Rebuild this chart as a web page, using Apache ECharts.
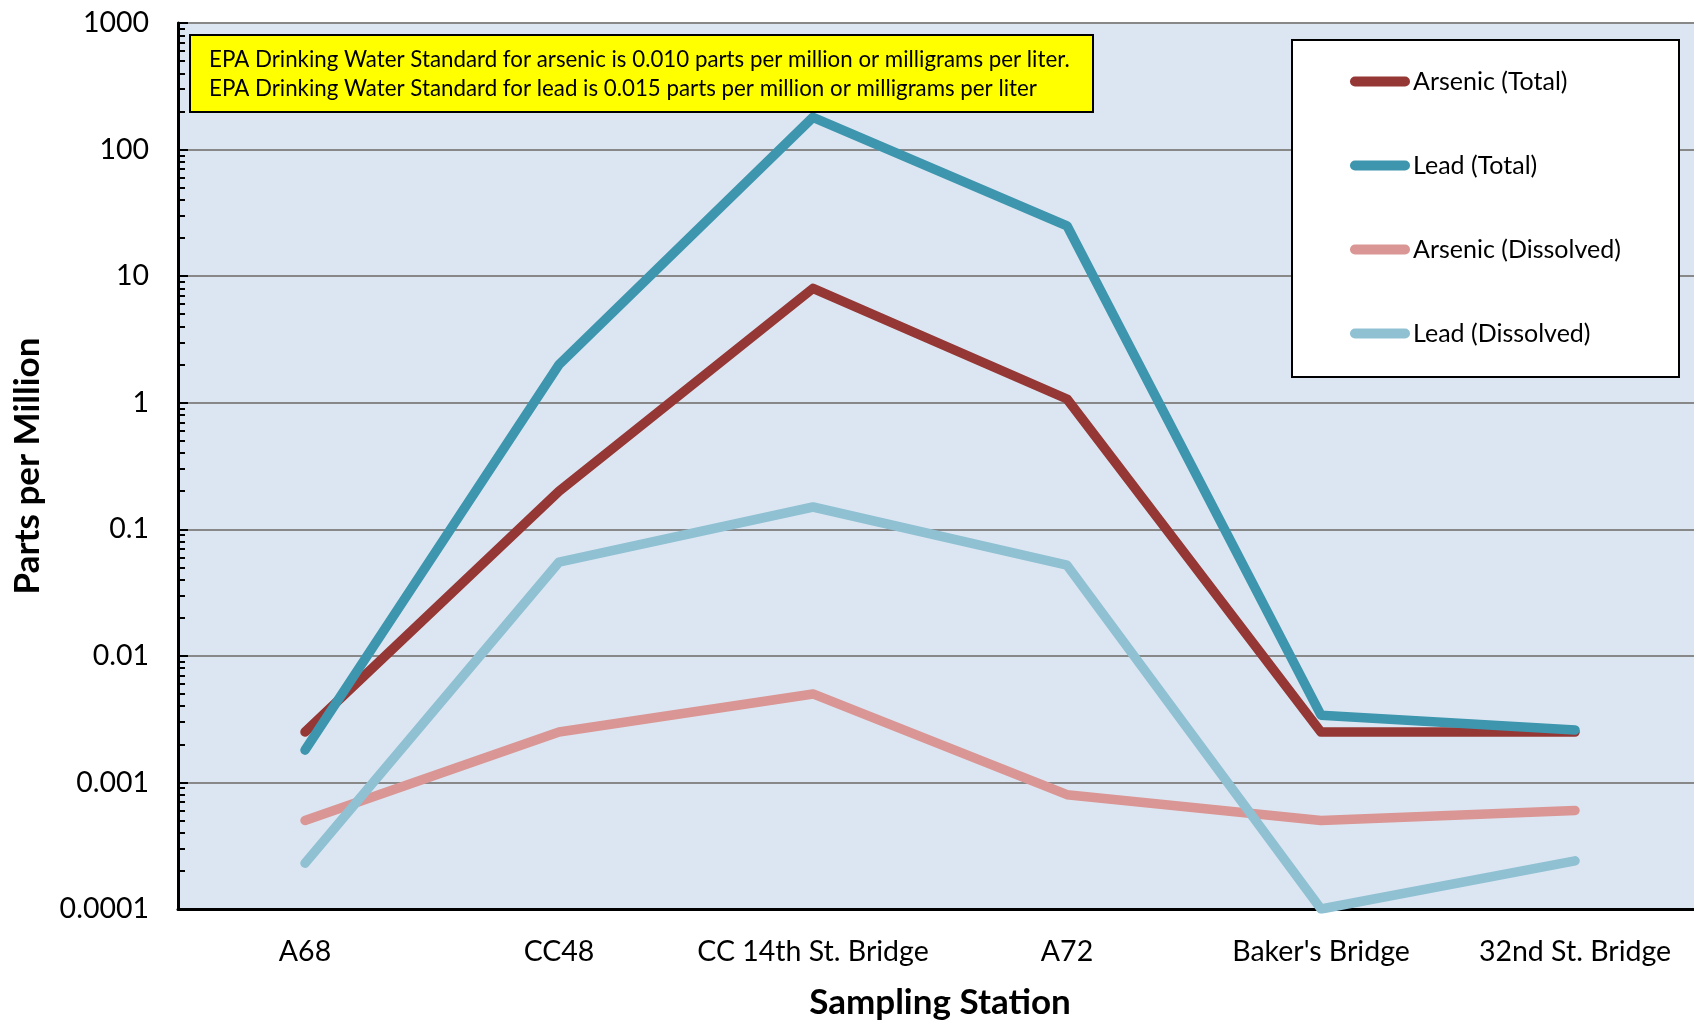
<!DOCTYPE html>
<html>
<head>
<meta charset="utf-8">
<script src="https://cdn.jsdelivr.net/npm/echarts@6/dist/echarts.min.js"></script>
<style>
html,body{margin:0;padding:0;background:#fff;}
#chart{width:1694px;height:1020px;}
</style>
</head>
<body>
<div id="chart"></div>
<script>
// ---- data ----
var stations = ['A68', 'CC48', 'CC 14th St. Bridge', 'A72', "Baker's Bridge", '32nd St. Bridge'];
var arsenicTotal = [0.0025, 0.2, 8, 1.07, 0.0025, 0.0025];
var leadTotal = [0.0018, 2, 180, 25, 0.0034, 0.0026];
var arsenicDissolved = [0.0005, 0.0025, 0.005, 0.0008, 0.0005, 0.0006];
var leadDissolved = [0.00023, 0.055, 0.15, 0.052, 0.0001, 0.00024];
var seriesNames = ['Arsenic (Total)', 'Lead (Total)', 'Arsenic (Dissolved)', 'Lead (Dissolved)'];
var yTickLabels = ['0.0001', '0.001', '0.01', '0.1', '1', '10', '100', '1000'];
var noteLines = [
  'EPA Drinking Water Standard for arsenic is 0.010 parts per million or milligrams per liter.',
  'EPA Drinking Water Standard for lead is 0.015 parts per million or milligrams per liter'
];
var xTitle = 'Sampling Station';
var yTitle = 'Parts per Million';

// ---- style ----
var colors = ['#953735', '#3D96AE', '#DA9694', '#8FC1D3'];
var FONT = 'Lato';

// minor tick positions (log10 of 2..9 x 10^n), used only for axis decoration
var minorTicks = [];
for (var e = -4; e < 3; e++) {
  for (var k = 2; k <= 9; k++) minorTicks.push(e + Math.log10(k));
}

var chart = echarts.init(document.getElementById('chart'), null, {renderer: 'canvas'});

function mkSeries(name, data, i) {
  return {
    name: name, type: 'line', data: data, symbol: 'none', smooth: false,
    xAxisIndex: 0, yAxisIndex: 0,
    itemStyle: {color: colors[i]},
    lineStyle: {color: colors[i], width: 9.5, cap: 'round', join: 'round'},
    emphasis: {disabled: true},
    z: 3 + i
  };
}

var capsule = 'path://M5,0H55A5,5,0,0,1,55,10H5A5,5,0,0,1,5,0Z';

var option = {
  animation: false,
  backgroundColor: '#ffffff',
  textStyle: {fontFamily: FONT},
  grid: {
    left: 178, width: 1524, top: 23, bottom: 111,
    outerBoundsMode: 'none', containLabel: false,
    show: true, backgroundColor: '#DCE6F2', borderColor: '#000', borderWidth: 1.5
  },
  legend: {
    orient: 'vertical', left: 1350, top: 69,
    itemWidth: 60, itemHeight: 10, itemGap: 59,
    icon: capsule,
    padding: 0,
    textStyle: {fontFamily: FONT, fontSize: 25, color: '#000', padding: [0, 0, 0, -2], lineHeight: 25},
    data: seriesNames,
    selectedMode: false,
    z: 20
  },
  xAxis: {
    type: 'category', data: stations, boundaryGap: true,
    axisLine: {show: true, onZero: false, lineStyle: {color: '#000', width: 3}},
    axisTick: {show: false},
    axisLabel: {fontFamily: FONT, fontSize: 28.5, color: '#000', margin: 28, interval: 0},
    splitLine: {show: false},
    name: xTitle, nameLocation: 'middle', nameGap: 76,
    nameTextStyle: {fontFamily: FONT, fontSize: 35, fontWeight: 'bold', color: '#000'}
  },
  yAxis: [{
    type: 'log', logBase: 10, min: 0.0001, max: 1000,
    axisLine: {show: true, lineStyle: {color: '#000', width: 3}},
    axisTick: {show: true, inside: true, length: 10, lineStyle: {color: '#000', width: 2}},
    axisLabel: {
      fontFamily: FONT, fontSize: 28.5, color: '#000', margin: 29,
      formatter: function (v) { return yTickLabels[Math.round(Math.log10(v)) + 4]; }
    },
    splitLine: {show: true, lineStyle: {color: '#888888', width: 2}},
    minorTick: {show: false},
    name: yTitle, nameLocation: 'middle', nameGap: 133, nameRotate: 90,
    nameTextStyle: {fontFamily: FONT, fontSize: 35, fontWeight: 'bold', color: '#000'}
  }, {
    type: 'value', min: -4, max: 3, position: 'left', offset: 0,
    axisLine: {show: false, onZero: false},
    axisLabel: {show: false},
    splitLine: {show: false},
    axisTick: {show: true, inside: true, length: 7, customValues: minorTicks, lineStyle: {color: '#000', width: 2}}
  }],
  series: [
    mkSeries(seriesNames[0], arsenicTotal, 0),
    mkSeries(seriesNames[1], leadTotal, 1),
    mkSeries(seriesNames[2], arsenicDissolved, 2),
    mkSeries(seriesNames[3], leadDissolved, 3)
  ],
  graphic: [
    {
      type: 'rect', z: 10, silent: true,
      shape: {x: 1292, y: 40, width: 387, height: 337},
      style: {fill: '#fff', stroke: '#000', lineWidth: 2}
    },
    {
      type: 'rect', z: 10, silent: true,
      shape: {x: 190, y: 35, width: 903, height: 77},
      style: {fill: '#FFFF00', stroke: '#000', lineWidth: 2}
    },
    {
      type: 'text', z: 11, silent: true, x: 209, y: 60,
      style: {text: noteLines[0], font: '22.3px ' + FONT, fill: '#000', verticalAlign: 'middle'}
    },
    {
      type: 'text', z: 11, silent: true, x: 209, y: 89,
      style: {text: noteLines[1], font: '22.3px ' + FONT, fill: '#000', verticalAlign: 'middle'}
    }
  ]
};
chart.setOption(option);
</script>
</body>
</html>
